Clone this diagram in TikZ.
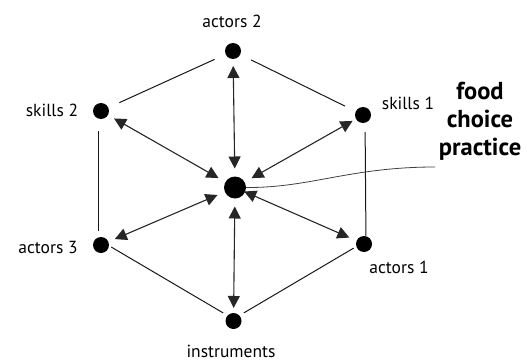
\documentclass[tikz,border=0pt]{standalone}
\usepackage{fontspec}
\setmainfont{PT Sans}
\usetikzlibrary{arrows.meta}
\begin{document}
\begin{tikzpicture}[x=1pt,y=-1pt,
  dot/.style={circle,fill=black,inner sep=0pt,minimum size=16pt},
  hub/.style={circle,fill=black,inner sep=0pt,minimum size=22pt},
  lbl/.style={font=\fontsize{17.5}{17.5}\selectfont,anchor=base,inner sep=0pt},
  edge/.style={line width=1pt,draw=black!90,shorten <=12pt,shorten >=12pt},
  link/.style={line width=1.1pt,draw=black!85,{Triangle[length=12pt,width=12pt]}-{Triangle[length=12pt,width=12pt]}}]
\useasboundingbox (0,0) rectangle (527,361);
\node[dot] (a2) at (233,51) {};
\node[dot] (s2) at (101,111) {};
\node[dot] (s1) at (363,115) {};
\node[hub] (c) at (235,187.5) {};
\node[dot] (a3) at (101,245) {};
\node[dot] (a1) at (364,244) {};
\node[dot] (in) at (233.5,321) {};
\node[lbl] (la2) at (232,28) {actors 2};
\node[lbl] (ls2) at (52,116) {skills 2};
\node[lbl] (ls1) at (408,109) {skills 1};
\node[lbl] (la3) at (48,253) {actors 3};
\node[lbl] (la1) at (399,273) {actors 1};
\node[lbl] (lin) at (231,357) {instruments};
\node[font=\fontsize{24.5}{28}\selectfont\bfseries,align=center,inner sep=0pt,anchor=base] (fcp) at (480,155) {food\\choice\\practice};
\coordinate (fend) at (435,167);
% hexagon
\draw[edge] (a2) -- (s2);
\draw[edge] (a2) -- (s1);
\draw[edge,shorten <=20pt,shorten >=14pt] ([xshift=-3pt]s2.center) -- ([xshift=-3pt]a3.center);
\draw[edge,shorten <=17pt,shorten >=8pt] ([xshift=2pt]s1.center) -- ([xshift=2pt]a1.center);
\draw[edge] ([yshift=4pt]a3.center) -- ([yshift=2pt]in.center);
\draw[edge] ([yshift=2pt]in.center) -- ([yshift=2pt]a1.center);
% arrows
\draw[link,shorten <=19pt,shorten >=15pt] (c.center) -- (a2.center);
\draw[link,shorten <=19pt,shorten >=13pt] (c.center) -- (in.center);
\draw[link,shorten <=19pt,shorten >=15pt] (c.center) -- (s2.center);
\draw[link,shorten <=19pt,shorten >=12pt] (c.center) -- (s1.center);
\draw[link,shorten <=19pt,shorten >=15pt] (c.center) -- (a3.center);
\draw[link,shorten <=10pt,shorten >=16pt] (c.center) -- (a1.center);
% connector to label
\draw[line width=0.8pt,draw=black!75] (c.east) .. controls (310,188) and (350,167) .. (fend);
\end{tikzpicture}
\end{document}
